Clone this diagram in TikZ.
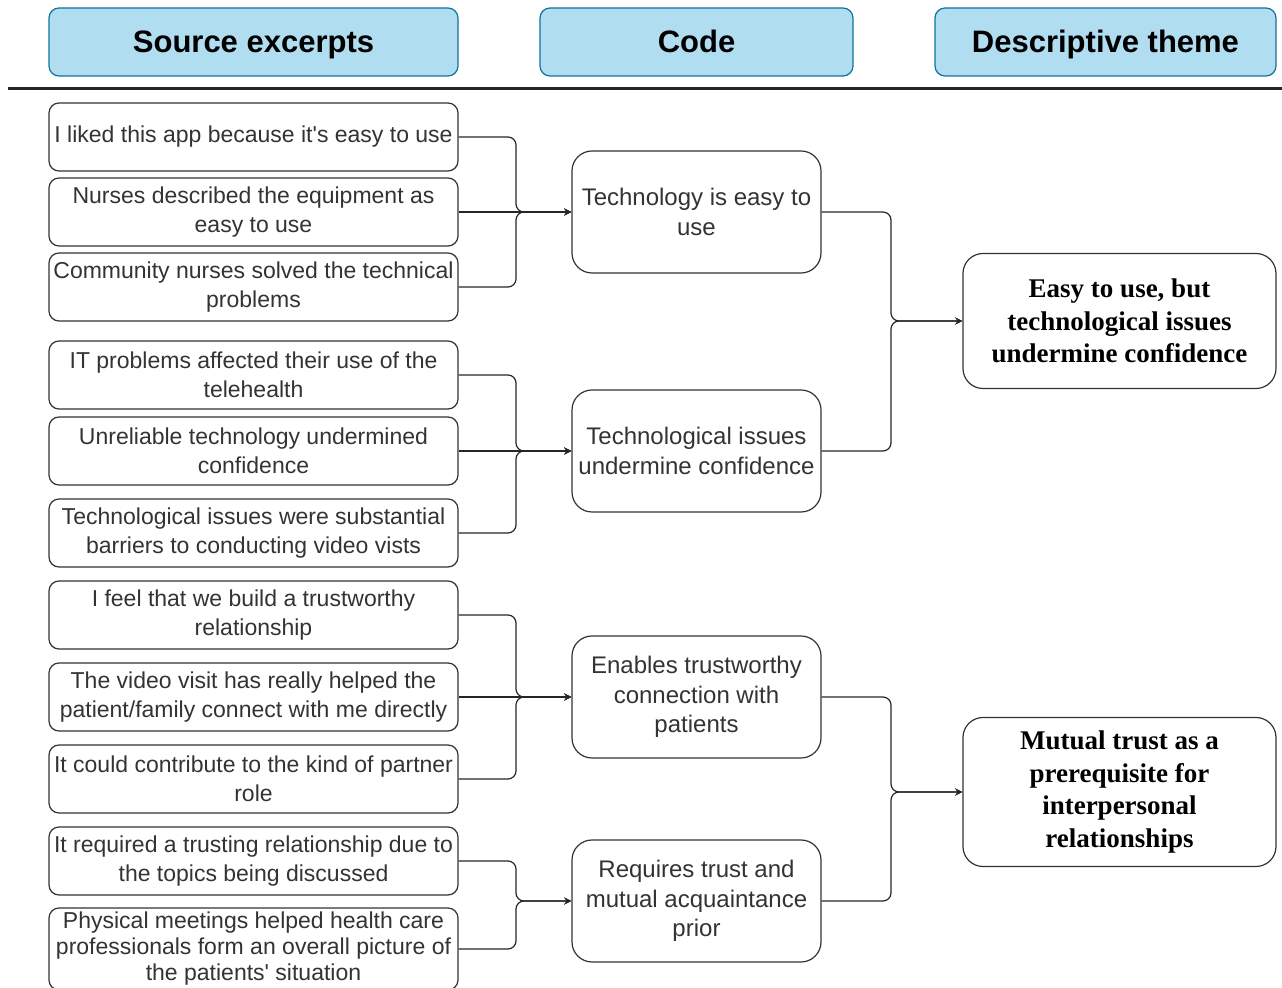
\documentclass[tikz,border=0pt]{standalone}
\usepackage{fontspec}
\setmainfont{Liberation Sans}
\newfontfamily\themefont{Liberation Serif}
\usetikzlibrary{positioning}
\definecolor{headfill}{HTML}{B1DDF0}
\definecolor{headline}{HTML}{10739E}
\tikzstyle{header}=[rectangle,rounded corners=5pt,draw=headline,fill=headfill,line width=0.6pt,font=\fontsize{15.5}{18}\selectfont\bfseries,minimum height=34pt,text height=11.5pt,text depth=0.5pt]
\tikzstyle{excerpt}=[rectangle,rounded corners=5pt,draw=black!80,line width=0.6pt,text=black!80,align=center,minimum width=204.5pt,minimum height=34pt,inner sep=0pt,font=\fontsize{11.5}{14.5}\selectfont]
\tikzstyle{code}=[rectangle,rounded corners=10pt,draw=black!80,line width=0.6pt,text=black!80,align=center,minimum width=124.5pt,minimum height=61pt,inner sep=0pt,font=\fontsize{12}{14.75}\selectfont]
\tikzstyle{theme}=[rectangle,rounded corners=10pt,draw=black!80,line width=0.6pt,align=center,minimum width=156.5pt,inner sep=0pt,font=\themefont\bfseries\fontsize{13.5}{16.25}\selectfont]
\tikzstyle{link}=[->,rounded corners=4pt,line width=0.6pt,draw=black!85]

\begin{document}
\begin{tikzpicture}[x=0.5pt,y=-0.5pt,>=stealth]
  \useasboundingbox (0,0) rectangle (1282,988);

  % column headers
  \node [header,minimum width=204.5pt] (headsource) at (253.5,42) {Source excerpts};
  \node [header,minimum width=156.5pt] (headcode) at (696.5,42) {Code};
  \node [header,minimum width=170.5pt] (headtheme) at (1105.5,42) {Descriptive theme};
  \draw [line width=1.5pt,black!85] (8,89) -- (1282,89);

  % source excerpts
  \node [excerpt] (excerpt1) at (253.5,137) {I liked this app because it\textquotesingle s easy to use};
  \node [excerpt] (excerpt2) [below of=excerpt1, node distance=37.5pt] {Nurses described the equipment as\\easy to use};
  \node [excerpt] (excerpt3) [below of=excerpt2, node distance=37.5pt] {Community nurses solved the technical\\problems};
  \node [excerpt] (excerpt4) [below of=excerpt3, node distance=44pt] {IT problems affected their use of the\\telehealth};
  \node [excerpt] (excerpt5) [below of=excerpt4, node distance=38pt] {Unreliable technology undermined\\confidence};
  \node [excerpt] (excerpt6) [below of=excerpt5, node distance=41pt] {Technological issues were substantial\\barriers to conducting video vists};
  \node [excerpt] (excerpt7) [below of=excerpt6, node distance=41pt] {I feel that we build a trustworthy\\relationship};
  \node [excerpt] (excerpt8) [below of=excerpt7, node distance=41pt] {The video visit has really helped the\\patient/family connect with me directly};
  \node [excerpt] (excerpt9) [below of=excerpt8, node distance=41pt] {It could contribute to the kind of partner\\role};
  \node [excerpt] (excerpt10) [below of=excerpt9, node distance=41pt] {It required a trusting relationship due to\\the topics being discussed};
  \node [excerpt,minimum height=41pt,font=\fontsize{11.5}{13}\selectfont] (excerpt11) [below of=excerpt10, node distance=44pt] {Physical meetings helped health care\\professionals form an overall picture of\\the patients\textquotesingle\ situation};

  % codes
  \node [code] (codeA) at (696.5,212) {Technology is easy to\\use};
  \node [code] (codeB) at (696.5,451) {Technological issues\\undermine confidence};
  \node [code] (codeC) at (696.5,697) {Enables trustworthy\\connection with\\patients};
  \node [code] (codeD) at (696.5,901) {Requires trust and\\mutual acquaintance\\prior};

  % themes
  \node [theme,minimum height=67.5pt] (themeA) at (1119.5,321) {Easy to use, but\\technological issues\\undermine confidence};
  \node [theme,minimum height=74.5pt] (themeB) at (1119.5,792) {Mutual trust as a\\prerequisite for\\interpersonal\\relationships};

  % junctions
  \coordinate (joinA) at (516,212);
  \coordinate (joinB) at (516,451);
  \coordinate (joinC) at (516,697);
  \coordinate (joinD) at (516,901);
  \coordinate (joinE) at (891,321);
  \coordinate (joinF) at (891,792);

  \draw [link] (excerpt1.east) -| (joinA) -- (codeA.west);
  \draw [link] (excerpt2.east) -- (codeA.west);
  \draw [link] (excerpt3.east) -| (joinA) -- (codeA.west);
  \draw [link] (excerpt4.east) -| (joinB) -- (codeB.west);
  \draw [link] (excerpt5.east) -- (codeB.west);
  \draw [link] (excerpt6.east) -| (joinB) -- (codeB.west);
  \draw [link] (excerpt7.east) -| (joinC) -- (codeC.west);
  \draw [link] (excerpt8.east) -- (codeC.west);
  \draw [link] (excerpt9.east) -| (joinC) -- (codeC.west);
  \draw [link] (excerpt10.east) -| (joinD) -- (codeD.west);
  \draw [link] (excerpt11.east) -| (joinD) -- (codeD.west);

  \draw [link] (codeA.east) -| (joinE) -- (themeA.west);
  \draw [link] (codeB.east) -| (joinE) -- (themeA.west);
  \draw [link] (codeC.east) -| (joinF) -- (themeB.west);
  \draw [link] (codeD.east) -| (joinF) -- (themeB.west);
\end{tikzpicture}
\end{document}
